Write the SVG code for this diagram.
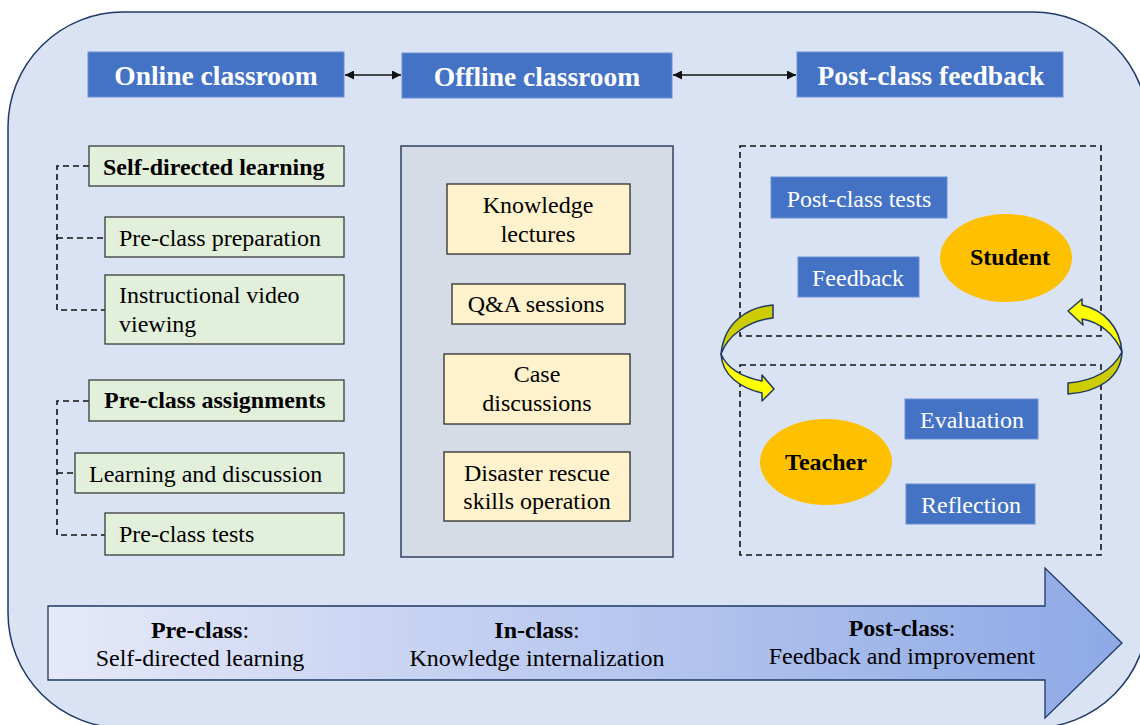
<svg xmlns="http://www.w3.org/2000/svg" width="1140" height="725" viewBox="0 0 1140 725">
  <defs>
    <style>
      text { font-family: "Liberation Serif", "Times New Roman", serif; fill: #000; }
      .head { fill: #4472c4; stroke: #6a8fd6; stroke-width: 1; }
      .head-t { font-size: 27.5px; font-weight: bold; fill: #fff; text-anchor: middle; }
      .green { fill: #e2efda; stroke: #3a3a3a; stroke-width: 1.3; }
      .t { font-size: 24px; }
      .b { font-size: 24px; font-weight: bold; }
      .mid { text-anchor: middle; }
      .tan { fill: #fff2cc; stroke: #2b2b2b; stroke-width: 1.3; }
      .blue { fill: #4472c4; stroke: #6a8fd6; stroke-width: 1; }
      .w { font-size: 24px; fill: #fff; text-anchor: middle; }
      .oval { fill: #ffc000; }
      .dash { fill: none; stroke: #111; stroke-width: 1.6; stroke-dasharray: 6 4; }
      .link { fill: none; stroke: #111; stroke-width: 1.3; }
      .curl { stroke: #1f3864; stroke-width: 1.5; stroke-linejoin: round; }
    </style>
    <marker id="arr" viewBox="0 0 10 10" refX="10" refY="5" markerWidth="9" markerHeight="9" markerUnits="userSpaceOnUse" orient="auto-start-reverse">
      <path d="M0,0 L10,5 L0,10 Z" fill="#111"/>
    </marker>
    <linearGradient id="flow" x1="0" y1="0" x2="1" y2="0">
      <stop offset="0" stop-color="#e6e9f8"/>
      <stop offset="1" stop-color="#8ea9e6"/>
    </linearGradient>
  </defs>

  <!-- rounded background panel -->
  <rect x="8" y="12" width="1140" height="716" rx="115" ry="115" fill="#dae3f3" stroke="#1f3864" stroke-width="1.5"/>

  <!-- column headings -->
  <g id="online-classroom">
    <rect class="head" x="88" y="52" width="256" height="45"/>
    <text class="head-t" x="216" y="85">Online classroom</text>
  </g>
  <g id="offline-classroom">
    <rect class="head" x="402" y="53" width="270" height="45"/>
    <text class="head-t" x="537" y="86">Offline classroom</text>
  </g>
  <g id="post-class-feedback">
    <rect class="head" x="797" y="52" width="266" height="45"/>
    <text class="head-t" x="931" y="85">Post-class feedback</text>
  </g>

  <!-- connectors -->
  <g id="connectors">
    <line class="link" x1="345" y1="75" x2="401" y2="75" marker-start="url(#arr)" marker-end="url(#arr)"/>
    <line class="link" x1="673" y1="75" x2="796" y2="75" marker-start="url(#arr)" marker-end="url(#arr)"/>
    <path class="dash" d="M89,166 H57 V310 H105 M57,238 H105"/>
    <path class="dash" d="M89,401 H57 V535 H105 M57,473 H75"/>
  </g>

  <!-- online: self-directed learning -->
  <g id="self-directed-learning">
    <rect class="green" x="89" y="146" width="255" height="40"/>
    <text class="b" x="103" y="175">Self-directed learning</text>
  </g>
  <g id="pre-class-preparation">
    <rect class="green" x="105" y="217" width="239" height="40"/>
    <text class="t" x="119" y="246">Pre-class preparation</text>
  </g>
  <g id="instructional-video">
    <rect class="green" x="105" y="275" width="239" height="69"/>
    <text class="t" x="119" y="303">Instructional video</text>
    <text class="t" x="119" y="332">viewing</text>
  </g>

  <!-- online: pre-class assignments -->
  <g id="pre-class-assignments">
    <rect class="green" x="89" y="380" width="255" height="41"/>
    <text class="b" x="104" y="408">Pre-class assignments</text>
  </g>
  <g id="learning-discussion">
    <rect class="green" x="75" y="453" width="269" height="40"/>
    <text class="t" x="89" y="482">Learning and discussion</text>
  </g>
  <g id="pre-class-tests">
    <rect class="green" x="105" y="513" width="239" height="42"/>
    <text class="t" x="119" y="542">Pre-class tests</text>
  </g>

  <!-- offline classroom activities -->
  <g id="offline-panel">
    <rect x="401" y="146" width="272" height="411" fill="#d5dce6" stroke="#2f4060" stroke-width="1.5"/>
  </g>
  <g id="knowledge-lectures">
    <rect class="tan" x="447" y="184" width="183" height="70"/>
    <text class="t mid" x="538" y="213">Knowledge</text>
    <text class="t mid" x="538" y="242">lectures</text>
  </g>
  <g id="qa-sessions">
    <rect class="tan" x="452" y="284" width="173" height="40"/>
    <text class="t mid" x="536" y="312">Q&amp;A sessions</text>
  </g>
  <g id="case-discussions">
    <rect class="tan" x="444" y="354" width="186" height="70"/>
    <text class="t mid" x="537" y="382">Case</text>
    <text class="t mid" x="537" y="411">discussions</text>
  </g>
  <g id="rescue-skills">
    <rect class="tan" x="444" y="452" width="186" height="69"/>
    <text class="t mid" x="537" y="481">Disaster rescue</text>
    <text class="t mid" x="537" y="509">skills operation</text>
  </g>

  <!-- post-class feedback: student side -->
  <g id="student-group">
    <rect class="dash" x="740" y="146" width="361" height="190"/>
  </g>
  <g id="post-class-tests">
    <rect class="blue" x="771" y="177" width="176" height="41"/>
    <text class="w" x="859" y="207">Post-class tests</text>
  </g>
  <g id="feedback">
    <rect class="blue" x="798" y="257" width="121" height="40"/>
    <text class="w" x="858" y="286">Feedback</text>
  </g>
  <g id="student">
    <ellipse class="oval" cx="1006" cy="258" rx="66" ry="44"/>
    <text class="b mid" x="1010" y="265">Student</text>
  </g>

  <!-- post-class feedback: teacher side -->
  <g id="teacher-group">
    <rect class="dash" x="740" y="365" width="361" height="190"/>
  </g>
  <g id="evaluation">
    <rect class="blue" x="905" y="399" width="133" height="40"/>
    <text class="w" x="972" y="428">Evaluation</text>
  </g>
  <g id="teacher">
    <ellipse class="oval" cx="826" cy="462" rx="66" ry="43"/>
    <text class="b mid" x="826" y="470">Teacher</text>
  </g>
  <g id="reflection">
    <rect class="blue" x="906" y="484" width="129" height="40"/>
    <text class="w" x="971" y="513">Reflection</text>
  </g>

  <!-- curved cycle arrows -->
  <g id="cycle-left">
    <path class="curl" fill="#cccc00" d="M773,305 C748,307 724,322 721,354 C728,335 748,321 773,318 Z"/>
    <path class="curl" fill="#ffff00" d="M721,354 C722,375 740,388 762,393 L762,401 L774,389 L762,375 L762,381 C742,377 727,368 721,354 Z"/>
  </g>
  <g id="cycle-right">
    <path class="curl" fill="#ffff00" d="M1082,305 C1103,310 1120,326 1122,352 C1115,335 1100,322 1082,319 L1083,325 L1068,311 L1082,299 Z"/>
    <path class="curl" fill="#cccc00" d="M1122,352 C1121,378 1098,392 1068,394 L1068,383 C1092,381 1112,371 1122,352 Z"/>
  </g>

  <!-- stage timeline arrow -->
  <g id="timeline">
    <path d="M48,606 L1045,606 L1045,568 L1122,643 L1045,718 L1045,680 L48,680 Z" fill="url(#flow)" stroke="#1f3864" stroke-width="1.3"/>
    <text class="t mid" x="200" y="638"><tspan font-weight="bold">Pre-class</tspan>:</text>
    <text class="t mid" x="200" y="666">Self-directed learning</text>
    <text class="t mid" x="537" y="638"><tspan font-weight="bold">In-class</tspan>:</text>
    <text class="t mid" x="537" y="666">Knowledge internalization</text>
    <text class="t mid" x="902" y="636"><tspan font-weight="bold">Post-class</tspan>:</text>
    <text class="t mid" x="902" y="664">Feedback and improvement</text>
  </g>
</svg>
